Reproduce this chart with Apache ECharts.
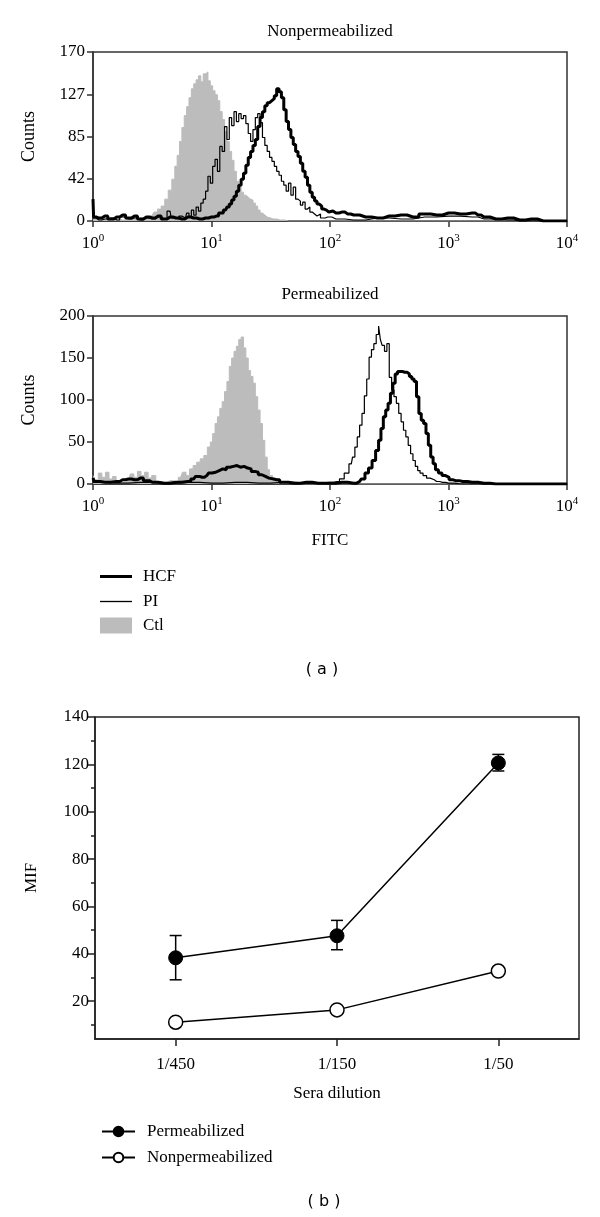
<!DOCTYPE html>
<html>
<head>
<meta charset="utf-8">
<script src="https://cdn.jsdelivr.net/npm/echarts@6/dist/echarts.min.js"></script>
<style>
  html, body { margin: 0; padding: 0; background: #fff; }
  #chart { width: 600px; height: 1217px; }
</style>
</head>
<body>
<div id="chart"></div>
<script>
// x in decades (log10 of FITC), y = counts
const nonCtl = [[0,2],[0.05,1],[0.1,2],[0.15,1],[0.2,2],[0.25,1],[0.3,2],[0.35,2],[0.4,3],[0.45,4],[0.5,6],[0.53,9],[0.56,12],[0.59,15],[0.62,22],[0.65,31],[0.68,42],[0.7,55],[0.72,66],[0.74,80],[0.76,94],[0.78,106],[0.8,115],[0.82,124],[0.84,133],[0.86,138],[0.88,142],[0.9,146],[0.92,140],[0.94,148],[0.96,150],[0.98,141],[1,136],[1.02,131],[1.04,127],[1.06,121],[1.08,110],[1.1,102],[1.12,90],[1.14,80],[1.16,70],[1.18,61],[1.2,50],[1.22,40],[1.24,34],[1.26,29],[1.28,26],[1.3,24],[1.32,22],[1.34,21],[1.36,18],[1.38,15],[1.4,11],[1.42,8],[1.44,6],[1.46,4],[1.48,3],[1.52,2],[1.58,1],[1.65,0],[4,0]]
const nonPI = [[0,3],[0.05,1],[0.1,2],[0.15,3],[0.2,1],[0.25,4],[0.3,2],[0.35,3],[0.4,1],[0.45,3],[0.5,2],[0.55,4],[0.6,2],[0.65,10],[0.67,3],[0.7,2],[0.75,5],[0.78,3],[0.8,8],[0.82,4],[0.84,11],[0.86,6],[0.88,14],[0.9,10],[0.92,18],[0.94,22],[0.96,30],[0.98,45],[1,38],[1.02,55],[1.04,62],[1.06,50],[1.08,75],[1.1,70],[1.12,95],[1.14,82],[1.16,104],[1.18,96],[1.2,110],[1.22,100],[1.24,108],[1.26,103],[1.28,106],[1.3,98],[1.32,88],[1.34,80],[1.36,92],[1.38,104],[1.4,108],[1.42,99],[1.44,84],[1.46,76],[1.48,70],[1.5,64],[1.52,60],[1.54,55],[1.56,50],[1.58,46],[1.6,40],[1.62,36],[1.64,30],[1.66,38],[1.68,26],[1.7,34],[1.72,22],[1.74,20],[1.76,16],[1.78,19],[1.8,12],[1.82,14],[1.84,9],[1.86,7],[1.88,5],[1.9,7],[1.94,3],[1.98,4],[2.05,2],[2.2,1],[2.4,3],[2.6,2],[2.8,4],[3,5],[3.2,4],[3.3,2],[3.5,1],[3.6,0],[4,0]]
const nonHCF = [[0,22],[0.01,4],[0.05,3],[0.1,5],[0.15,2],[0.2,4],[0.25,6],[0.3,3],[0.35,5],[0.4,2],[0.45,4],[0.5,3],[0.55,5],[0.6,2],[0.65,4],[0.7,3],[0.75,2],[0.8,4],[0.85,3],[0.9,2],[0.95,3],[1,4],[1.04,5],[1.08,8],[1.12,11],[1.14,14],[1.16,17],[1.18,21],[1.2,25],[1.22,30],[1.24,36],[1.26,42],[1.28,48],[1.3,56],[1.32,64],[1.34,70],[1.36,76],[1.38,82],[1.4,95],[1.42,104],[1.44,110],[1.46,116],[1.48,119],[1.5,121],[1.52,123],[1.54,126],[1.56,133],[1.58,130],[1.6,124],[1.62,112],[1.64,100],[1.66,92],[1.68,84],[1.7,77],[1.72,70],[1.74,65],[1.76,58],[1.78,50],[1.8,44],[1.82,36],[1.84,29],[1.86,24],[1.88,20],[1.9,17],[1.92,15],[1.94,12],[1.96,11],[1.98,9],[2,10],[2.05,8],[2.1,9],[2.15,7],[2.2,6],[2.3,4],[2.4,3],[2.5,5],[2.6,6],[2.7,4],[2.8,7],[2.9,6],[3,8],[3.1,7],[3.2,8],[3.25,6],[3.3,4],[3.4,2],[3.5,3],[3.6,1],[3.7,2],[3.8,0],[4,0]]

const permCtl = [[0,10],[0.03,5],[0.06,13],[0.09,8],[0.12,14],[0.15,6],[0.18,9],[0.21,3],[0.25,2],[0.3,4],[0.33,12],[0.36,8],[0.39,15],[0.42,10],[0.45,14],[0.48,7],[0.51,10],[0.55,3],[0.6,2],[0.65,4],[0.7,3],[0.74,8],[0.77,14],[0.8,10],[0.83,18],[0.86,22],[0.89,26],[0.92,30],[0.95,34],[0.98,44],[1,50],[1.02,60],[1.04,72],[1.06,80],[1.08,90],[1.1,98],[1.12,110],[1.14,122],[1.16,140],[1.18,150],[1.2,158],[1.22,164],[1.24,172],[1.26,175],[1.28,162],[1.3,150],[1.32,135],[1.34,128],[1.36,120],[1.38,104],[1.4,88],[1.42,72],[1.44,52],[1.46,32],[1.48,17],[1.5,10],[1.53,6],[1.57,3],[1.62,1],[1.7,0],[4,0]]
const permPI = [[0,2],[0.2,1],[0.4,2],[0.6,1],[0.8,2],[1,1],[1.2,2],[1.4,1],[1.6,2],[1.8,1],[2,2],[2.06,3],[2.1,6],[2.14,13],[2.18,24],[2.2,32],[2.22,44],[2.24,56],[2.26,70],[2.28,84],[2.3,105],[2.32,125],[2.34,151],[2.36,160],[2.38,167],[2.4,178],[2.42,188],[2.43,172],[2.45,165],[2.47,158],[2.49,167],[2.51,127],[2.53,112],[2.55,104],[2.57,96],[2.59,84],[2.61,74],[2.63,64],[2.65,56],[2.67,46],[2.69,36],[2.71,28],[2.73,21],[2.75,16],[2.77,13],[2.8,10],[2.83,7],[2.86,5],[2.9,3],[2.95,2],[3,1],[3.1,0],[4,0]]
const permHCF = [[0,7],[0.02,3],[0.1,2],[0.2,3],[0.25,5],[0.3,6],[0.35,5],[0.4,7],[0.45,4],[0.5,2],[0.6,1],[0.7,2],[0.8,3],[0.85,6],[0.88,9],[0.92,8],[0.96,10],[0.99,13],[1.02,14],[1.05,16],[1.08,18],[1.11,17],[1.14,20],[1.17,21],[1.2,22],[1.23,20],[1.26,21],[1.29,19],[1.32,18],[1.35,15],[1.38,14],[1.41,11],[1.44,9],[1.47,7],[1.5,6],[1.55,5],[1.6,2],[1.7,1],[1.8,2],[1.9,1],[2,1],[2.1,2],[2.2,1],[2.25,3],[2.28,6],[2.31,13],[2.34,19],[2.37,28],[2.4,40],[2.42,52],[2.44,66],[2.46,80],[2.48,88],[2.5,96],[2.52,108],[2.54,120],[2.56,131],[2.58,134],[2.6,134],[2.62,133],[2.64,133],[2.66,131],[2.68,128],[2.7,125],[2.72,122],[2.74,104],[2.76,84],[2.78,76],[2.8,72],[2.82,60],[2.84,46],[2.86,32],[2.88,24],[2.9,17],[2.93,13],[2.96,10],[2.99,8],[3.02,5],[3.06,4],[3.12,3],[3.2,2],[3.3,1],[3.4,0],[4,0]]

const nonCountTicks = [0, 42, 85, 127, 170]
const permCountTicks = [0, 50, 100, 150, 200]

const dilutions = ['1/450', '1/150', '1/50']
const permMean = [38.3, 47.6, 120.6]
const permLow = [29, 41.7, 117.2]
const permHigh = [47.7, 54.1, 124.2]
const nonMean = [11.1, 16.3, 32.7]
const mifLabelTicks = [20, 40, 60, 80, 100, 120, 140]
const mifMinorTicks = [10, 30, 50, 70, 90, 110, 130]

const serif = '"Liberation Serif", "DejaVu Serif", serif'
const axisColor = '#333'
const gray = '#bcbcbc'

const chart = echarts.init(document.getElementById('chart'))

const histX = (gridIndex, name) => ({
  type: 'value',
  gridIndex,
  min: 0,
  max: 4,
  interval: 1,
  axisLine: { show: true, onZero: false, lineStyle: { color: axisColor, width: 1.5 } },
  axisTick: { show: true, length: 6, lineStyle: { color: axisColor, width: 1.5 } },
  splitLine: { show: false },
  axisLabel: {
    margin: 12,
    formatter: (v) => '{n|10}{s|' + v + '}',
    rich: {
      n: { fontFamily: serif, fontSize: 17, color: '#000', lineHeight: 22 },
      s: { fontFamily: serif, fontSize: 11, color: '#000', lineHeight: 12, verticalAlign: 'top' },
    },
  },
  name,
  nameLocation: 'middle',
  nameGap: 48,
  nameTextStyle: { fontFamily: serif, fontSize: 17, color: '#000' },
})

const histY = (gridIndex, max, ticks) => ({
  type: 'value',
  gridIndex,
  min: 0,
  max,
  interval: max / 4,
  axisLine: { show: true, lineStyle: { color: axisColor, width: 1.5 } },
  axisTick: { show: true, length: 6, lineStyle: { color: axisColor, width: 1.5 } },
  splitLine: { show: false },
  axisLabel: {
    margin: 8,
    fontFamily: serif,
    fontSize: 17,
    color: '#000',
    formatter: (v) => ticks[Math.round(v / (max / 4))],
  },
  name: 'Counts',
  nameLocation: 'middle',
  nameGap: 55,
  nameTextStyle: { fontFamily: serif, fontSize: 18, color: '#000' },
})

const histSeries = (name, data, idx) => {
  const isCtl = name === 'Ctl'
  const color = isCtl ? gray : '#000'
  return {
    name,
    type: 'line',
    xAxisIndex: idx,
    yAxisIndex: idx,
    step: 'middle',
    symbol: 'none',
    color,
    itemStyle: { color },
    lineStyle: { color, width: name === 'HCF' ? 3 : isCtl ? 1 : 1.2 },
    areaStyle: isCtl ? { color: gray, opacity: 1 } : null,
    data,
    z: isCtl ? 1 : name === 'PI' ? 2 : 3,
  }
}

chart.setOption({
  animation: false,
  grid: [
    { left: 93, top: 52, width: 474, height: 169, show: true, borderColor: axisColor, borderWidth: 1.5 },
    { left: 93, top: 316, width: 474, height: 168, show: true, borderColor: axisColor, borderWidth: 1.5 },
    { left: 95, top: 717, width: 484, height: 322, show: true, borderColor: '#222', borderWidth: 1.5 },
  ],
  xAxis: [
    histX(0, ''),
    histX(1, 'FITC'),
    {
      type: 'category',
      gridIndex: 2,
      data: dilutions,
      boundaryGap: true,
      axisLine: { lineStyle: { color: '#222', width: 1.5 } },
      axisTick: { show: true, alignWithLabel: true, length: 7, lineStyle: { color: '#222', width: 1.5 } },
      axisLabel: { margin: 17, fontFamily: serif, fontSize: 17, color: '#000' },
      name: 'Sera dilution',
      nameLocation: 'middle',
      nameGap: 46,
      nameTextStyle: { fontFamily: serif, fontSize: 17, color: '#000' },
    },
  ],
  yAxis: [
    histY(0, 170, nonCountTicks),
    histY(1, 200, permCountTicks),
    {
      type: 'value',
      gridIndex: 2,
      position: 'left',
      min: 4,
      max: 140,
      axisLine: { show: true, lineStyle: { color: '#222', width: 1.5 } },
      axisTick: { show: true, length: 8, customValues: mifLabelTicks, lineStyle: { color: '#222', width: 1.5 } },
      axisLabel: { customValues: mifLabelTicks, margin: 6, fontFamily: serif, fontSize: 17, color: '#000' },
      splitLine: { show: false },
      name: 'MIF',
      nameLocation: 'middle',
      nameGap: 55,
      nameTextStyle: { fontFamily: serif, fontSize: 17, color: '#000' },
    },
    {
      type: 'value',
      gridIndex: 2,
      position: 'left',
      offset: 0,
      min: 4,
      max: 140,
      axisLine: { show: false },
      axisTick: { show: true, length: 4, customValues: mifMinorTicks, lineStyle: { color: '#222', width: 1.5 } },
      axisLabel: { show: false },
      splitLine: { show: false },
    },
  ],
  legend: [
    { data: [{ name: 'HCF', icon: 'rect' }], left: 95, top: 563, itemWidth: 32, itemHeight: 3,
      textStyle: { fontFamily: serif, fontSize: 17, color: '#000', padding: [0, 0, 0, 6] } },
    { data: [{ name: 'PI', icon: 'rect' }], left: 95, top: 588, itemWidth: 32, itemHeight: 1.3,
      textStyle: { fontFamily: serif, fontSize: 17, color: '#000', padding: [0, 0, 0, 6] } },
    { data: [{ name: 'Ctl', icon: 'rect' }], left: 95, top: 612, itemWidth: 32, itemHeight: 16,
      textStyle: { fontFamily: serif, fontSize: 17, color: '#000', padding: [0, 0, 0, 6] } },
    { data: ['Permeabilized', 'Nonpermeabilized'], orient: 'vertical', left: 96, top: 1118,
      itemWidth: 33, itemHeight: 12, itemGap: 9,
      textStyle: { fontFamily: serif, fontSize: 17, color: '#000', padding: [0, 0, 0, 7] } },
  ],
  graphic: [
    { type: 'text', x: 330, y: 32, style: { text: 'Nonpermeabilized', font: '17px ' + serif, fill: '#000', align: 'center', verticalAlign: 'middle' } },
    { type: 'text', x: 330, y: 295, style: { text: 'Permeabilized', font: '17px ' + serif, fill: '#000', align: 'center', verticalAlign: 'middle' } },
    { type: 'text', x: 322, y: 670, style: { text: '( a )', font: '16px "DejaVu Sans", sans-serif', fill: '#000', align: 'center', verticalAlign: 'middle' } },
    { type: 'text', x: 324, y: 1202, style: { text: '( b )', font: '16px "DejaVu Sans", sans-serif', fill: '#000', align: 'center', verticalAlign: 'middle' } },
  ],
  series: [
    histSeries('Ctl', nonCtl, 0),
    histSeries('PI', nonPI, 0),
    histSeries('HCF', nonHCF, 0),
    histSeries('Ctl', permCtl, 1),
    histSeries('PI', permPI, 1),
    histSeries('HCF', permHCF, 1),
    {
      type: 'custom',
      xAxisIndex: 2,
      yAxisIndex: 2,
      data: dilutions.map((d, i) => [i, permLow[i], permHigh[i]]),
      encode: { x: 0, y: [1, 2] },
      renderItem: (params, api) => {
        const lo = api.coord([api.value(0), api.value(1)])
        const hi = api.coord([api.value(0), api.value(2)])
        const w = 6
        const style = { stroke: '#000', lineWidth: 1.5 }
        return {
          type: 'group',
          children: [
            { type: 'line', shape: { x1: lo[0], y1: lo[1], x2: hi[0], y2: hi[1] }, style },
            { type: 'line', shape: { x1: lo[0] - w, y1: lo[1], x2: lo[0] + w, y2: lo[1] }, style },
            { type: 'line', shape: { x1: hi[0] - w, y1: hi[1], x2: hi[0] + w, y2: hi[1] }, style },
          ],
        }
      },
      z: 1,
    },
    {
      name: 'Permeabilized',
      type: 'line',
      xAxisIndex: 2,
      yAxisIndex: 2,
      data: permMean,
      symbol: 'circle',
      symbolSize: 14,
      color: '#000',
      itemStyle: { color: '#000', borderColor: '#000', borderWidth: 1 },
      lineStyle: { color: '#000', width: 1.5 },
      z: 3,
    },
    {
      name: 'Nonpermeabilized',
      type: 'line',
      xAxisIndex: 2,
      yAxisIndex: 2,
      data: nonMean,
      symbol: 'circle',
      symbolSize: 14,
      color: '#000',
      itemStyle: { color: '#fff', borderColor: '#000', borderWidth: 1.5 },
      lineStyle: { color: '#000', width: 1.5 },
      z: 3,
    },
  ],
})
</script>
</body>
</html>
